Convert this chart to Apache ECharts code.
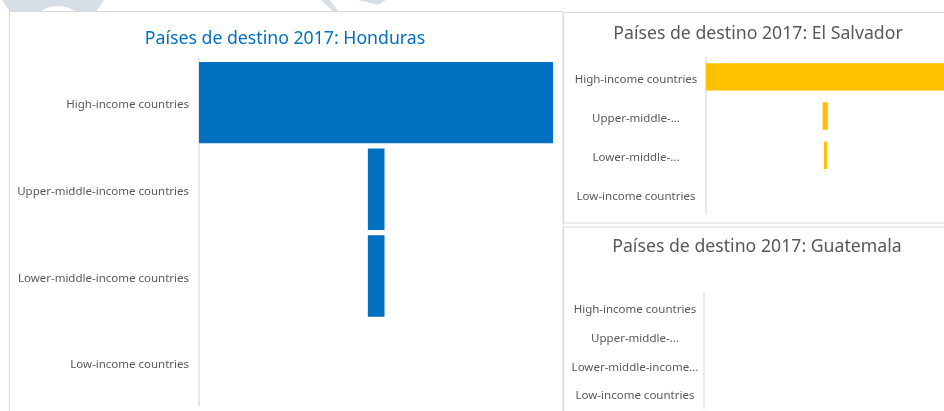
<!DOCTYPE html>
<html>
<head>
<meta charset="utf-8">
<script src="https://cdn.jsdelivr.net/npm/echarts@6/dist/echarts.min.js"></script>
<style>
  html, body { margin: 0; padding: 0; background: #fff; }
  #chart { width: 944px; height: 411px; }
</style>
</head>
<body>
<div id="chart"></div>
<script>
// categorias (orden de arriba a abajo)
const categories = ['High-income countries', 'Upper-middle-income countries', 'Lower-middle-income countries', 'Low-income countries']
const esLabels = ['High-income countries', 'Upper-middle-...', 'Lower-middle-...', 'Low-income countries']
const gtLabels = ['High-income countries', 'Upper-middle-...', 'Lower-middle-income...', 'Low-income countries']

// Honduras: desplazamiento invisible + valor visible
const hnOffset = [0, 47.7, 47.7, 0]
const hnValues = [100, 4.7, 4.7, 0]
// El Salvador
const svOffset = [0, 49.0, 49.6, 0]
const svValues = [100, 2.2, 1.3, 0]
// Guatemala: sin barras
const gtOffset = [0, 0, 0, 0]
const gtValues = [0, 0, 0, 0]

const titles = ['Países de destino 2017: Honduras', 'Países de destino 2017: El Salvador', 'Países de destino 2017: Guatemala']

const font = 'Noto Sans'
const labelColor = '#595959'
const borderColor = '#d9d9d9'

const chart = echarts.init(document.getElementById('chart'), null, { renderer: 'canvas' })

// marcos de las graficas
const grids = [
  { left: 199, top: 59.3, width: 354, height: 346.7 },
  { left: 706, top: 57.3, width: 238, height: 156.7 },
  { left: 704, top: 293, width: 240, height: 115 }
]
// rejillas solo para etiquetas, un poco mas abajo
const labelShift = 2.5
const labelGrids = grids.map(g => Object.assign({}, g, { top: g.top + labelShift }))

function catAxis(gridIndex) {
  return {
    type: 'category',
    gridIndex: gridIndex,
    data: categories,
    inverse: true,
    axisLine: { show: true, lineStyle: { color: '#e0e0e0', width: 1.5 } },
    axisTick: { show: false },
    axisLabel: { show: false }
  }
}

function labelAxis(gridIndex, labels, align, margin) {
  return {
    type: 'category',
    gridIndex: gridIndex,
    data: categories,
    inverse: true,
    axisLine: { show: false },
    axisTick: { show: false },
    axisLabel: {
      color: labelColor,
      fontFamily: font,
      fontSize: 11.5,
      align: align,
      margin: margin,
      formatter: (v, i) => labels[i]
    }
  }
}

function valAxis(gridIndex) {
  return {
    type: 'value',
    gridIndex: gridIndex,
    min: 0,
    max: 100,
    show: false,
    splitLine: { show: false }
  }
}

function barPair(idx, offset, values, color, gap) {
  return [{
    type: 'bar',
    xAxisIndex: idx,
    yAxisIndex: idx,
    stack: 's' + idx,
    data: offset,
    itemStyle: { color: 'transparent' },
    barCategoryGap: gap,
    silent: true
  }, {
    type: 'bar',
    xAxisIndex: idx,
    yAxisIndex: idx,
    stack: 's' + idx,
    data: values,
    itemStyle: { color: color },
    barCategoryGap: gap
  }]
}

const titleStyle = { fontFamily: font, fontSize: 17.7, fontWeight: 'normal' }

chart.setOption({
  animation: false,
  title: [
    { text: titles[0], left: 285, top: 30, textAlign: 'center', padding: 0, textStyle: Object.assign({ color: '#0070C0' }, titleStyle) },
    { text: titles[1], left: 758, top: 25, textAlign: 'center', padding: 0, textStyle: Object.assign({ color: labelColor }, titleStyle) },
    { text: titles[2], left: 757, top: 238, textAlign: 'center', padding: 0, textStyle: Object.assign({ color: labelColor }, titleStyle) }
  ],
  graphic: [
    // marca de agua parcial
    { type: 'polygon', z: -10, shape: { points: [[2, 0], [104, 0], [96, 12], [10, 12]] }, style: { fill: '#d6dee7' } },
    { type: 'circle', z: -9, shape: { cx: 58, cy: 36, r: 30 }, style: { fill: '#fff' } },
    { type: 'polygon', z: -10, shape: { points: [[321, 0], [330, 0], [338, 11], [334, 12]] }, style: { fill: '#d6dee7' } },
    { type: 'polygon', z: -10, shape: { points: [[358, 0], [386, 0], [378, 5]] }, style: { fill: '#d6dee7' } },
    // marcos de los paneles
    { type: 'rect', z: -5, shape: { x: 9.5, y: 11.5, width: 553.5, height: 420 }, style: { fill: '#fff', stroke: borderColor, lineWidth: 1 } },
    { type: 'rect', z: -5, shape: { x: 563.5, y: 12.5, width: 400, height: 210.5 }, style: { fill: '#fff', stroke: borderColor, lineWidth: 1 } },
    { type: 'rect', z: -5, shape: { x: 563.5, y: 227, width: 400, height: 200 }, style: { fill: '#fff', stroke: borderColor, lineWidth: 1 } }
  ],
  grid: grids.concat(labelGrids),
  xAxis: [valAxis(0), valAxis(1), valAxis(2), valAxis(3), valAxis(4), valAxis(5)],
  yAxis: [
    catAxis(0),
    catAxis(1),
    catAxis(2),
    labelAxis(3, categories, 'right', 10),
    labelAxis(4, esLabels, 'center', 70),
    labelAxis(5, gtLabels, 'center', 69)
  ],
  series: [].concat(
    barPair(0, hnOffset, hnValues, '#0070C0', '6%'),
    barPair(1, svOffset, svValues, '#FFC000', '30%'),
    barPair(2, gtOffset, gtValues, '#A5A5A5', '30%')
  )
})
</script>
</body>
</html>
